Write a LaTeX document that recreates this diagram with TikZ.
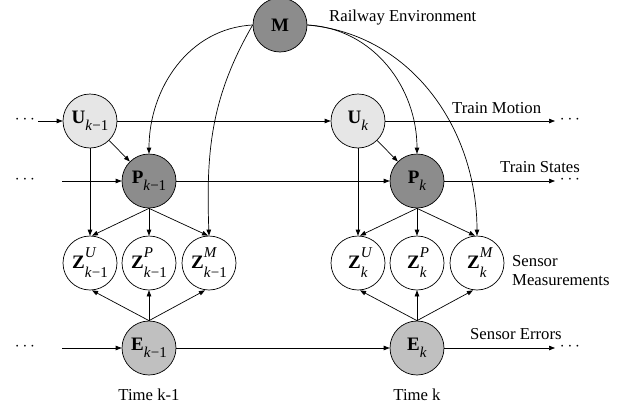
\documentclass[tikz,border=0pt]{standalone}
\usepackage{fontspec}
\setmainfont{Liberation Serif}
\usetikzlibrary{arrows.meta}
\definecolor{darkg}{HTML}{8C8C8C}
\definecolor{midg}{HTML}{C0C0C0}
\definecolor{lightg}{HTML}{E6E6E6}
\newcommand{\myscr}{\fontsize{15}{15}\selectfont}
\newcommand{\labone}[2]{\textbf{#1}\raisebox{-7pt}{\myscr #2}}
\newcommand{\labtwo}[3]{\textbf{#1}\rlap{\raisebox{11pt}{\myscr\textit{#2}}}\raisebox{-9pt}{\myscr #3}}
\newcommand{\mykm}{\textit{k}−1}
\newcommand{\mykk}{\textit{k}}
\begin{document}
\begin{tikzpicture}[x=1pt,y=-1pt,
  var/.style={circle,draw,line width=0.7pt,minimum size=54pt,inner sep=0pt,font=\fontsize{19}{20}\selectfont},
  arr/.style={line width=0.7pt,-{Triangle[length=6pt,width=4.5pt]}},
  lbl/.style={font=\fontsize{16.7}{19}\selectfont,inner sep=0pt},
  dots/.style={font=\fontsize{16.5}{19}\selectfont,inner sep=0pt}]
\useasboundingbox (0,0) rectangle (633,410);
% nodes
\node[var,fill=darkg] (M) at (280,25) {\textbf{M}};
\node[var,fill=lightg] (U1) at (90,121) {\labone{U}{\mykm}};
\node[var,fill=darkg] (P1) at (149,181) {\labone{P}{\mykm}};
\node[var,fill=white] (ZU1) at (90,263) {\labtwo{Z}{U}{\mykm}};
\node[var,fill=white] (ZP1) at (149,263) {\labtwo{Z}{P}{\mykm}};
\node[var,fill=white] (ZM1) at (209,263) {\labtwo{Z}{M}{\mykm}};
\node[var,fill=midg] (E1) at (149,348) {\labone{E}{\mykm}};
\node[var,fill=lightg] (U2) at (358,121) {\labone{U}{\mykk}};
\node[var,fill=darkg] (P2) at (417,181) {\labone{P}{\mykk}};
\node[var,fill=white] (ZU2) at (358,263) {\labtwo{Z}{U}{\mykk}};
\node[var,fill=white] (ZP2) at (417,263) {\labtwo{Z}{P}{\mykk}};
\node[var,fill=white] (ZM2) at (477,263) {\labtwo{Z}{M}{\mykk}};
\node[var,fill=midg] (E2) at (417,348) {\labone{E}{\mykk}};
% dots
\node[dots] (dU1) at (25,120) {$\cdots$};
\node[dots] (dP1) at (25,180) {$\cdots$};
\node[dots] (dE1) at (25,347) {$\cdots$};
\node[dots] (dU2) at (570,120) {$\cdots$};
\node[dots] (dP2) at (570,180) {$\cdots$};
\node[dots] (dE2) at (570,347) {$\cdots$};
\coordinate (sU) at (38,121);
\coordinate (sP) at (62,181);
\coordinate (sE) at (62,348);
\coordinate (eU) at (555,121);
\coordinate (eP) at (555,181);
\coordinate (eE) at (555,348);
% labels
\node[lbl,anchor=west] (tRE) at (329,18) {Railway Environment};
\node[lbl,anchor=west] (tTM) at (452,108) {Train Motion};
\node[lbl,anchor=west] (tTS) at (500,167) {Train States};
\node[lbl,anchor=west,align=left] (tSM) at (512,271) {Sensor\\Measurements};
\node[lbl,anchor=west] (tSE) at (470,334) {Sensor Errors};
\node[lbl] (tT1) at (149,395) {Time k-1};
\node[lbl] (tT2) at (417,395) {Time k};
% horizontal chains
\draw[arr] (sU) -- (U1);
\draw[arr] (sP) -- (P1);
\draw[arr] (sE) -- (E1);
\draw[arr] (U1) -- (U2);
\draw[arr] (P1) -- (P2);
\draw[arr] (E1) -- (E2);
\draw[arr] (U2) -- (eU);
\draw[arr] (P2) -- (eP);
\draw[arr] (E2) -- (eE);
% within slice k-1
\draw[arr] (U1) -- (P1);
\draw[arr] (U1.south) -- (ZU1.north);
\draw[arr] (P1.south) -- ([xshift=2pt]ZU1.north);
\draw[arr] (P1.south) -- (ZP1.north);
\draw[arr] (P1.south) -- ([xshift=-1pt]ZM1.north);
\draw[arr] (E1.north) -- ([xshift=2pt]ZU1.south);
\draw[arr] (E1.north) -- (ZP1.south);
\draw[arr] (E1.north) -- ([xshift=-4pt]ZM1.south);
% within slice k
\draw[arr] (U2) -- (P2);
\draw[arr] (U2.south) -- (ZU2.north);
\draw[arr] (P2.south) -- ([xshift=2pt]ZU2.north);
\draw[arr] (P2.south) -- (ZP2.north);
\draw[arr] (P2.south) -- ([xshift=-2pt]ZM2.north);
\draw[arr] (E2.north) -- ([xshift=2pt]ZU2.south);
\draw[arr] (E2.north) -- (ZP2.south);
\draw[arr] (E2.north) -- ([xshift=-4pt]ZM2.south);
% environment influences
\draw[arr] (M.west) to[out=183,in=90] (P1.north);
\draw[arr] (M.west) to[out=240,in=92] (ZM1.north);
\draw[arr] (M.east) to[out=-3,in=90] (P2.north);
\draw[arr] (M.east) to[out=-5,in=90] (ZM2.north);
\end{tikzpicture}
\end{document}
